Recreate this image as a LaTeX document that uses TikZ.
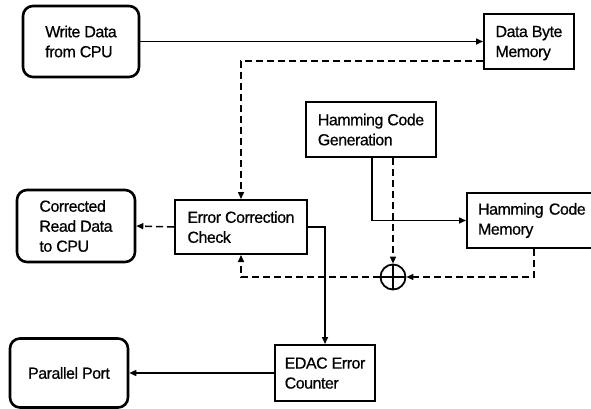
\documentclass[tikz,border=0pt]{standalone}
\usepackage{fontspec}
\setmainfont[FakeBold=0.6]{Liberation Sans}
\usetikzlibrary{arrows.meta}
\begin{document}
\begin{tikzpicture}[x=1pt,y=-1pt,
  font=\fontsize{16}{20}\selectfont\addfontfeature{LetterSpace=-3},
  sqbox/.style={draw,line width=2pt,align=left,inner sep=0pt,text depth=0pt},
  rbox/.style={draw,line width=2.6pt,rounded corners=10pt,align=left,inner sep=0pt},
  conn/.style={line width=1.5pt,-{Triangle[length=7pt,width=6pt]}},
  dconn/.style={conn,dash pattern=on 7pt off 4pt}]
\useasboundingbox (0,0) rectangle (591,409);
\node[rbox,minimum width=116pt,minimum height=71pt] (wd) at (81,41.5) {Write Data\\from CPU};
\node[sqbox,minimum width=90pt,minimum height=55pt] (dbm) at (529,41.5) {Data Byte\\Memory};
\node[sqbox,minimum width=130pt,minimum height=55pt] (hcg) at (371,129.5) {Hamming Code\\Generation};
\node[rbox,minimum width=118pt,minimum height=72pt] (crd) at (76,226) {Corrected\\Read Data\\to CPU};
\node[sqbox,minimum width=132pt,minimum height=54pt] (ecc) at (241,227) {Error Correction\\Check};
\node[sqbox,text depth=,text width=108pt,inner xsep=11pt,minimum height=55pt,anchor=west] (hcm) at (466,220.5) {Hamming Code\\Memory};
\node[draw,circle,line width=1.8pt,minimum size=25pt,inner sep=0pt] (xor) at (393,277) {};
\draw[line width=1.5pt] (xor.north) -- (xor.south) (xor.west) -- (xor.east);
\node[sqbox,minimum width=100pt,minimum height=56pt] (edac) at (325,373) {EDAC Error\\Counter};
\node[rbox,minimum width=118pt,minimum height=69pt] (pp) at (69,373) {Parallel Port};
% connectors
\draw[conn] (wd.east) -- (dbm.west);
\draw[dconn] ([yshift=9pt]dbm.south west) -| (ecc.north);
\draw[dconn] (ecc.west) -- (crd.east);
\draw[conn] (ecc.east) -| (edac.north);
\draw[conn] (edac.west) -- (pp.east);
\draw[conn] ([xshift=1pt]hcg.south) |- (hcm.west);
\draw[dconn] (xor |- hcg.south) -- (xor.north);
\draw[dconn] (hcm.south -| 534,0) |- (xor.east);
\draw[dconn] (xor.west) -| (ecc.south);
\end{tikzpicture}
\end{document}
